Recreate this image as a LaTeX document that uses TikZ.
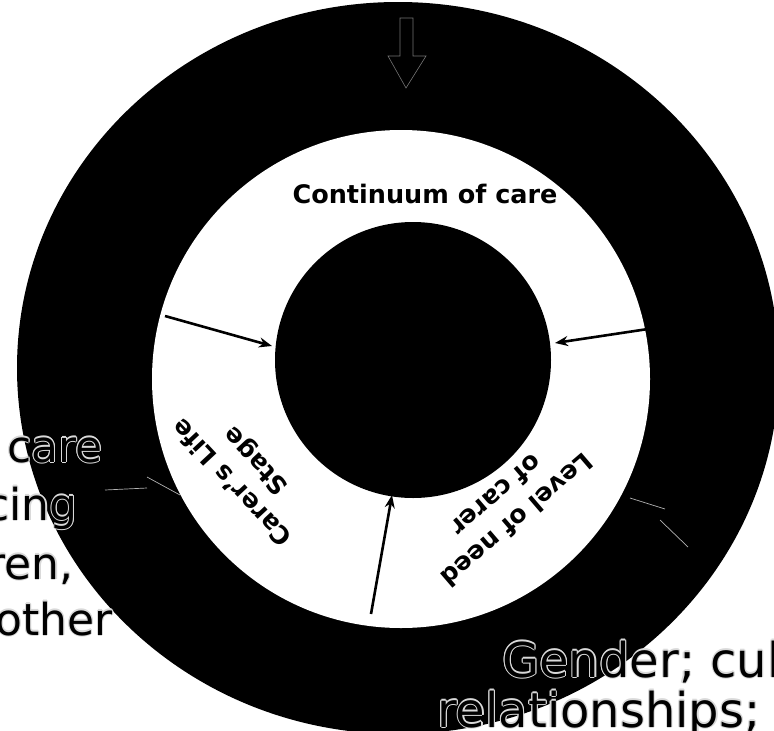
\documentclass[tikz,border=0pt]{standalone}
\usepackage{fontspec}
\setmainfont{DejaVu Sans}
\usetikzlibrary{arrows.meta}
\newcommand{\halonode}[4]{%
  \foreach \hx/\hy in {1.1/0,-1.1/0,0/1.1,0/-1.1,0.8/0.8,-0.8/0.8,0.8/-0.8,-0.8/-0.8}{%
    \node[#2,text=white!85!black,xshift=\hx pt,yshift=\hy pt] at #3 {#4};
  }%
  \node[#2] (#1) at #3 {#4};%
}
\tikzset{
  lefttext/.style={inner sep=0pt,anchor=base east,text=black,font=\fontsize{44}{52}\selectfont},
  righttext/.style={inner sep=0pt,anchor=base west,text=black,font=\fontsize{48}{56}\selectfont},
  boldlabel/.style={inner sep=0pt,align=center,text=black,font=\bfseries\fontsize{25}{32}\selectfont},
  pointer/.style={line width=2.6pt,-{Stealth[length=13pt,width=10pt]}},
  ghost/.style={draw=white!70!black,line width=0.7pt},
}
\begin{document}
\begin{tikzpicture}[x=1pt,y=-1pt]
\useasboundingbox (0,0) rectangle (774,731);
\clip (0,0) rectangle (774,731);
\fill[white] (0,0) rectangle (774,731);
% rings
\fill[black] (398,368) ellipse [x radius=381, y radius=366];
\fill[white] (401,379) circle [radius=249];
\fill[black] (413,360) circle [radius=138];
\coordinate (core) at (413,360);
% top block arrow (black on black, faint outline)
\draw[fill=black,draw=white!45!black,line width=0.6pt]
  (400,18) -- (413,18) -- (413,56) -- (426,56) -- (406,88) -- (388,56) -- (400,56) -- cycle;
% arrows into the core
\coordinate (lA) at (165,316); \coordinate (lB) at (272,346);
\coordinate (rA) at (648,329); \coordinate (rB) at (555,343);
\coordinate (bA) at (371,614); \coordinate (bB) at (392,495);
\draw[pointer] (lA) -- (lB);
\draw[pointer] (rA) -- (rB);
\draw[pointer] (bA) -- (bB);
% ghost arrows on the ring
\coordinate (g1) at (105,490); \coordinate (g2) at (147,488);
\coordinate (g3) at (147,477); \coordinate (g4) at (180,495);
\coordinate (g5) at (630,498); \coordinate (g6) at (665,509);
\coordinate (g7) at (660,520); \coordinate (g8) at (688,547);
\draw[ghost] (g1) -- (g2);
\draw[ghost] (g3) -- (g4);
\draw[ghost] (g5) -- (g6);
\draw[ghost] (g7) -- (g8);
% labels
\node[boldlabel,anchor=base,font=\bfseries\fontsize{25.5}{30}\selectfont] (cont) at (425,203) {Continuum of care};
\node[boldlabel,rotate=133] (life) at (245,471) {Carer’s Life\\Stage};
\node[boldlabel,rotate=220.6] (need) at (507,508) {Level of need\\of carer};
% outside texts (cut by the edge)
\halonode{t1}{lefttext}{(103,462)}{care}
\halonode{t2}{lefttext}{(78,520)}{cing}
\halonode{t3}{lefttext}{(74,579)}{ren,}
\halonode{t4}{lefttext}{(113,635)}{other}
\halonode{t5}{righttext}{(502,677)}{Gender; cul}
\halonode{t6}{righttext}{(437,727)}{relationships;}
\end{tikzpicture}
\end{document}
